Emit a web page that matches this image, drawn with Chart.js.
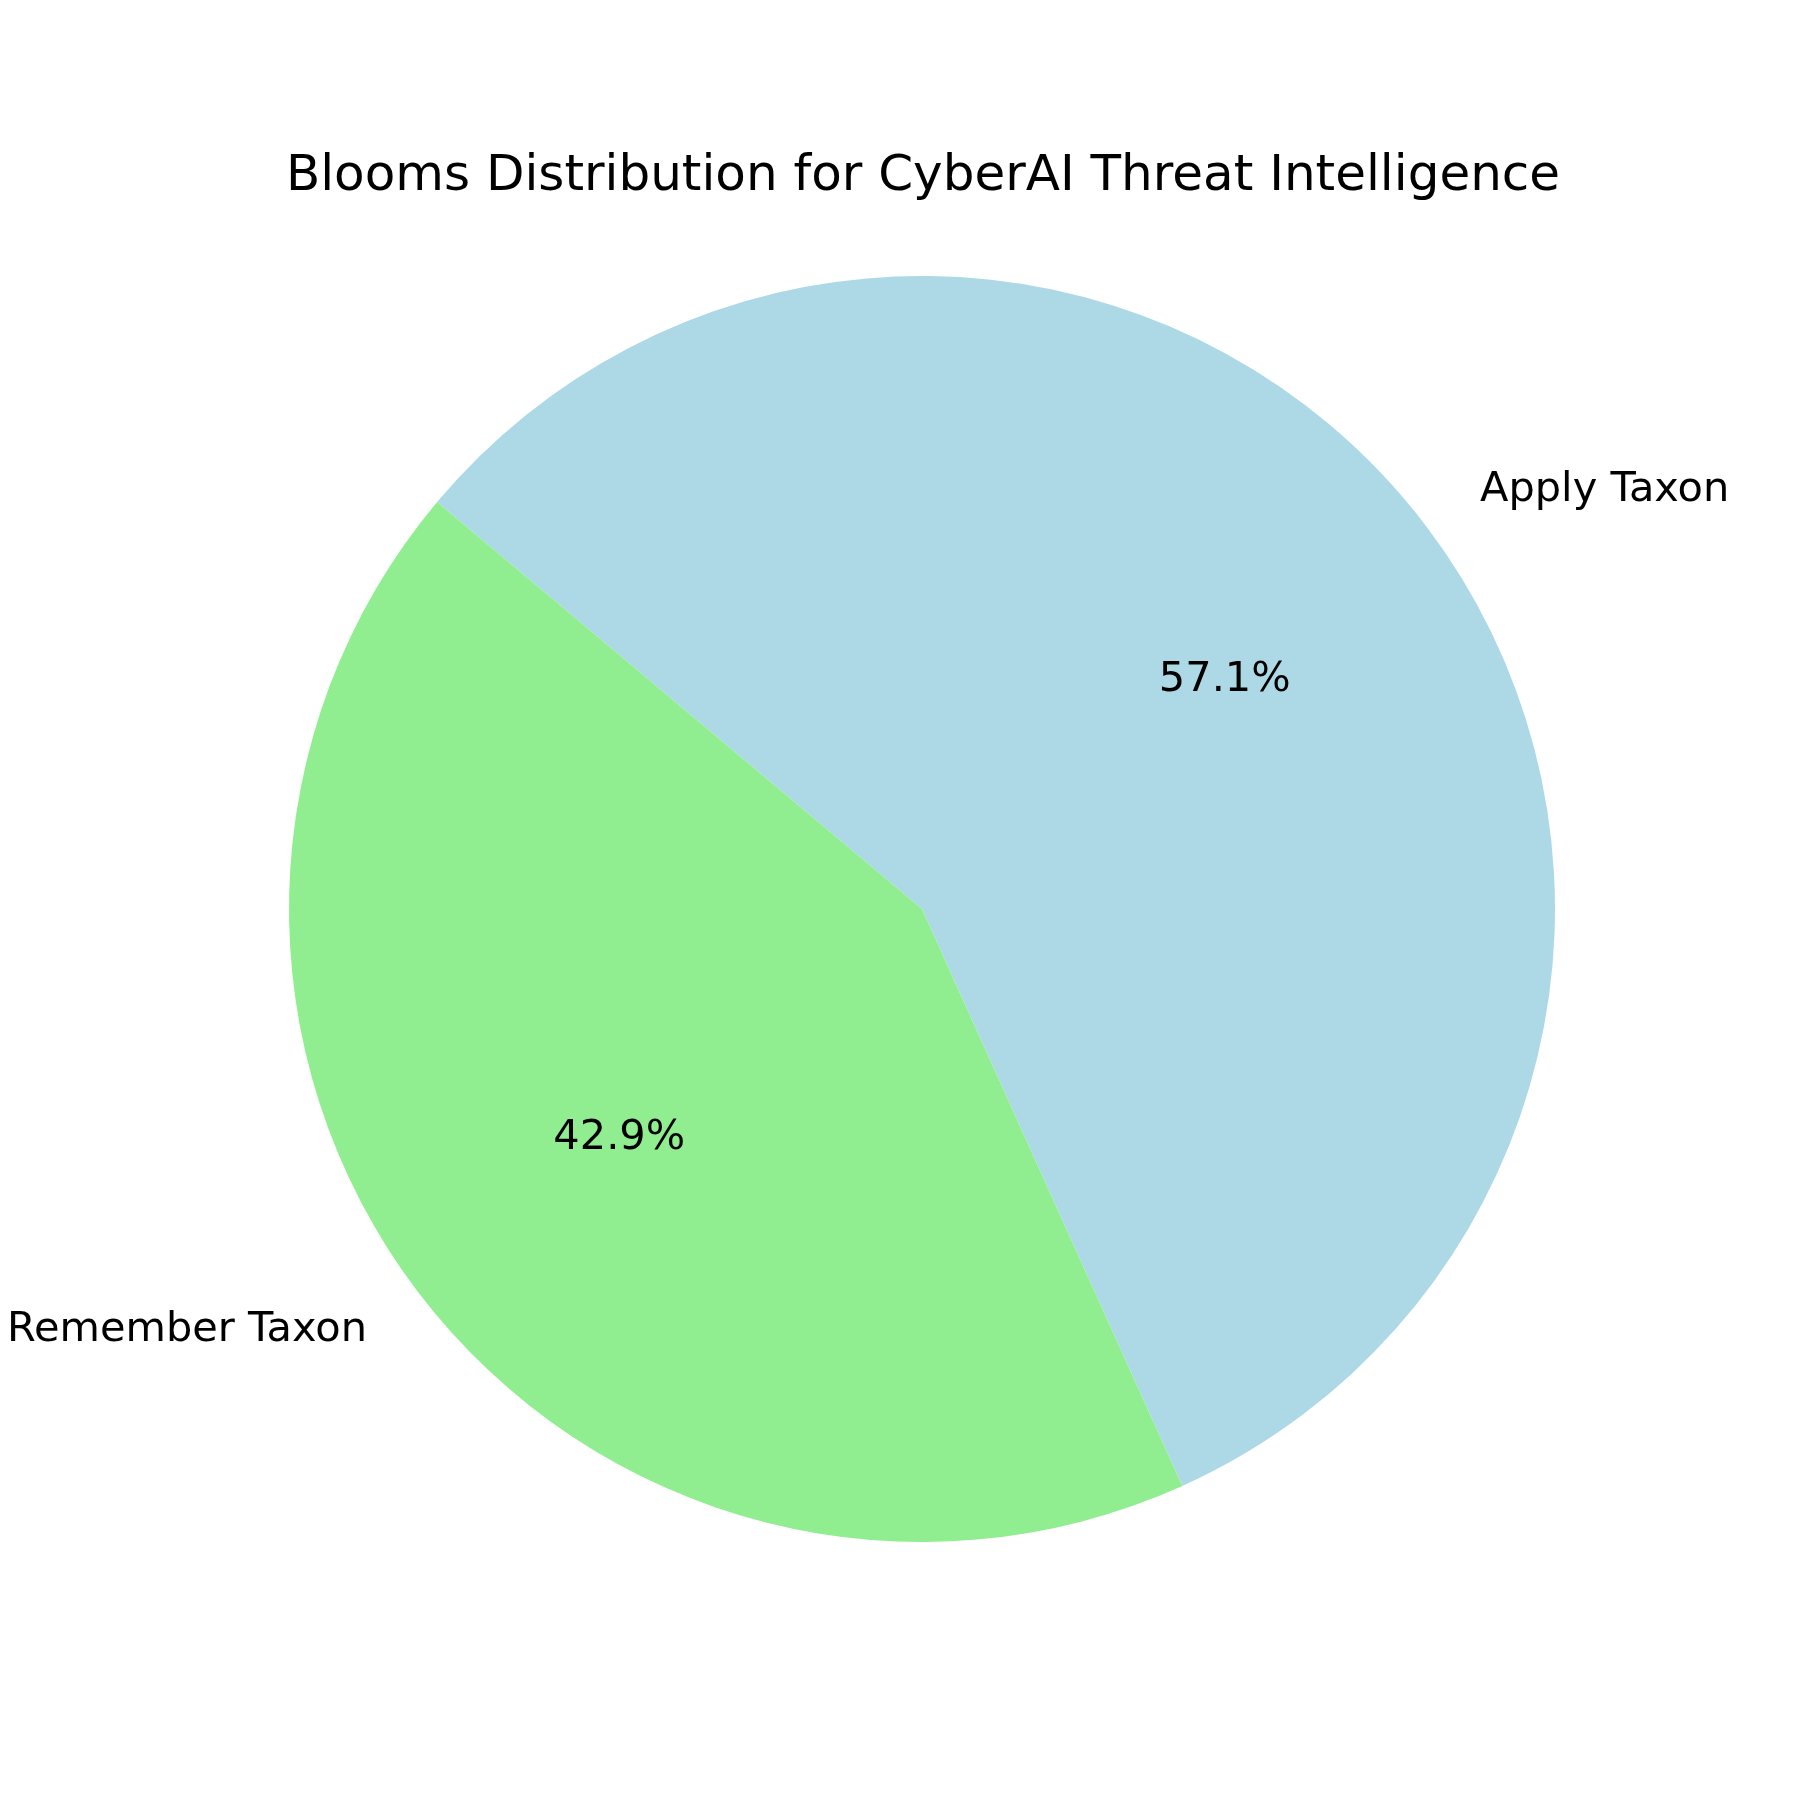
<!DOCTYPE html>
<html lang="en">
  <head>
    <meta charset="UTF-8" />
    <title>Blooms Distribution</title>
    <script src="https://cdn.jsdelivr.net/npm/chart.js@4.4.1/dist/chart.umd.min.js"></script>
    <style>
      html, body { margin: 0; padding: 0; background: #fff; }
      canvas { display: block; }
    </style>
  </head>
  <body>
    <canvas id="bloomsChart" width="1800" height="1800"></canvas>

    <script>
      // data (3 vs 4 items -> 42.9% / 57.1%)
      const taxonLabels = ['Apply Taxon', 'Remember Taxon'];
      const taxonCounts = [4, 3];
      const taxonColors = ['#ADD8E6', '#90EE90'];
      const chartTitle = 'Blooms Distribution for CyberAI Threat Intelligence';

      const FONT = '"DejaVu Sans", sans-serif';

      // matplotlib-ish text: labels at 1.1r, percentages at 0.6r
      const pieText = {
        id: 'pieText',
        afterDatasetsDraw(chart) {
          const ctx = chart.ctx;
          const meta = chart.getDatasetMeta(0);
          const total = taxonCounts.reduce((a, b) => a + b, 0);
          ctx.save();
          ctx.fillStyle = '#000';
          ctx.textBaseline = 'alphabetic';

          meta.data.forEach((arc, i) => {
            const mid = (arc.startAngle + arc.endAngle) / 2;
            const r = arc.outerRadius;
            const cos = Math.cos(mid), sin = Math.sin(mid);

            ctx.font = '41.5px ' + FONT;
            // outer label
            const lx = arc.x + cos * r * 1.1;
            const ly = arc.y + sin * r * 1.1;
            ctx.textAlign = cos >= 0 ? 'left' : 'right';
            ctx.fillText(taxonLabels[i], lx + (cos >= 0 ? 3 : 0), ly + 12);

            // percentage
            const px = arc.x + cos * r * 0.6;
            const py = arc.y + sin * r * 0.6;
            ctx.textAlign = 'center';
            const pct = (taxonCounts[i] / total * 100).toFixed(1) + '%';
            ctx.fillText(pct, px, py + 11);
          });

          ctx.font = '50px ' + FONT;
          ctx.textAlign = 'center';
          ctx.fillText(chartTitle, meta.data[0].x + 1, 190);
          ctx.restore();
        }
      };

      new Chart(document.getElementById('bloomsChart'), {
        type: 'pie',
        data: {
          labels: taxonLabels,
          datasets: [{
            data: taxonCounts,
            backgroundColor: taxonColors,
            borderWidth: 0,
            hoverOffset: 0
          }]
        },
        options: {
          responsive: false,
          devicePixelRatio: 1,
          animation: false,
          rotation: -50,
          layout: { padding: { left: 289, right: 245, top: 276, bottom: 258 } },
          plugins: {
            legend: { display: false },
            tooltip: { enabled: false },
            title: { display: false }
          }
        },
        plugins: [pieText]
      });
    </script>
  </body>
</html>
